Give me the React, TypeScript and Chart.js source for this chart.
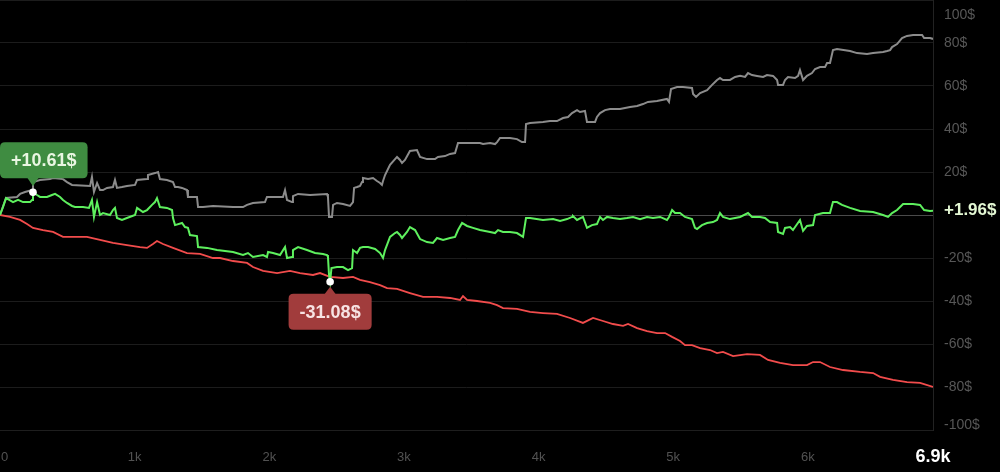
import React, { useEffect, useRef } from "react";
import { Chart, registerables } from "chart.js";

Chart.register(...registerables);

// ---------- axis values ----------
const X_MIN = 0;
const X_MAX = 6930;
const X_TICKS = [0, 1000, 2000, 3000, 4000, 5000, 6000];
const X_TICK_LABELS = ["0", "1k", "2k", "3k", "4k", "5k", "6k"];
const X_END_LABEL = "6.9k";
const Y_MIN = -100;
const Y_MAX = 100;
const Y_TICKS = [100, 80, 60, 40, 20, -20, -40, -60, -80, -100];
const Y_TICK_LABELS = ["100$", "80$", "60$", "40$", "20$", "-20$", "-40$", "-60$", "-80$", "-100$"];

// ---------- gross (grey) ----------
const grossX = [
  0, 45, 126, 149, 186, 238, 245, 297, 371, 394,
  468, 498, 535, 669, 683, 698, 721, 743, 765, 795,
  839, 854, 869, 906, 943, 1003, 1018, 1092, 1099, 1151,
  1174, 1188, 1240, 1285, 1300, 1322, 1352, 1389, 1396, 1463,
  1471, 1508, 1582, 1731, 1805, 1835, 1879, 1968, 1983, 2102,
  2117, 2132, 2169, 2176, 2214, 2303, 2429, 2436, 2444, 2466,
  2474, 2503, 2548, 2600, 2622, 2630, 2652, 2674, 2689, 2696,
  2734, 2771, 2800, 2823, 2837, 2845, 2860, 2897, 2949, 2971,
  2986, 3008, 3045, 3097, 3120, 3172, 3231, 3253, 3305, 3343,
  3380, 3402, 3439, 3565, 3588, 3640, 3677, 3692, 3714, 3788,
  3840, 3877, 3900, 3907, 3937, 4033, 4085, 4137, 4182, 4219,
  4249, 4286, 4308, 4345, 4360, 4420, 4434, 4457, 4494, 4531,
  4605, 4680, 4732, 4776, 4813, 4880, 4954, 4969, 4984, 5029,
  5073, 5140, 5148, 5170, 5200, 5252, 5289, 5326, 5348, 5370,
  5422, 5460, 5497, 5534, 5556, 5586, 5623, 5668, 5697, 5742,
  5772, 5779, 5816, 5831, 5853, 5905, 5928, 5942, 5965, 5994,
  6031, 6054, 6091, 6128, 6143, 6165, 6187, 6217, 6314, 6366,
  6440, 6485, 6559, 6589, 6611, 6626, 6663, 6700, 6737, 6782,
  6849, 6864, 6908, 6930,
];
const grossY = [
  0, 7.9, 8.4, 9.8, 10.7, 11.6, 15.3, 16.3, 16.7, 17.2,
  16.7, 15.3, 14.0, 13.5, 17.7, 10.7, 14.9, 11.6, 11.6, 12.6,
  13.0, 16.3, 12.6, 13.0, 13.5, 14.0, 16.3, 16.7, 18.6, 19.5,
  20.0, 16.7, 16.3, 15.3, 13.0, 13.0, 12.6, 11.6, 8.4, 8.4,
  3.7, 3.7, 4.2, 3.7, 3.7, 4.7, 5.6, 6.0, 8.4, 8.4,
  11.6, 7.0, 6.0, 8.8, 9.8, 9.3, 9.8, 8.4, -0.9, -0.9,
  4.7, 5.6, 5.1, 4.2, 6.0, 12.6, 13.0, 13.5, 15.3, 17.2,
  16.7, 17.2, 15.8, 14.9, 14.0, 15.8, 18.6, 23.3, 27.0, 25.6,
  24.2, 25.6, 29.8, 30.2, 27.0, 26.0, 26.0, 27.0, 27.4, 28.4,
  28.8, 33.5, 33.5, 33.5, 33.0, 33.5, 33.0, 33.9, 35.8, 35.8,
  35.3, 33.9, 33.9, 42.3, 42.8, 43.3, 43.7, 43.7, 45.1, 45.6,
  47.4, 48.8, 47.9, 48.4, 43.3, 43.3, 45.6, 47.4, 48.8, 49.3,
  49.3, 50.2, 50.7, 51.6, 52.6, 53.0, 54.0, 52.6, 58.6, 59.5,
  59.5, 59.1, 56.3, 54.9, 56.7, 58.1, 60.5, 62.8, 63.7, 62.8,
  62.8, 64.2, 64.7, 64.2, 66.0, 65.1, 64.7, 64.2, 65.1, 64.7,
  62.8, 60.5, 60.5, 62.8, 64.2, 63.7, 64.7, 67.4, 62.8, 64.7,
  66.0, 67.9, 68.8, 68.8, 70.7, 70.7, 76.7, 77.2, 76.3, 75.3,
  74.9, 75.3, 75.8, 76.3, 76.7, 78.1, 79.5, 82.3, 83.3, 83.7,
  83.7, 82.3, 82.3, 81.9,
];

// ---------- net (green) ----------
const netX = [
  0, 22, 45, 59, 97, 134, 171, 223, 238, 245,
  275, 297, 349, 386, 409, 446, 468, 498, 535, 557,
  617, 661, 683, 698, 721, 743, 765, 817, 839, 854,
  869, 906, 943, 1003, 1018, 1062, 1092, 1129, 1151, 1166,
  1188, 1240, 1278, 1285, 1300, 1352, 1374, 1396, 1411, 1463,
  1471, 1538, 1612, 1731, 1805, 1842, 1879, 1954, 1983, 1991,
  2028, 2080, 2117, 2132, 2169, 2176, 2214, 2280, 2340, 2399,
  2429, 2436, 2444, 2452, 2462, 2503, 2548, 2585, 2615, 2622,
  2652, 2674, 2696, 2734, 2786, 2823, 2845, 2860, 2897, 2934,
  2949, 2971, 2986, 3023, 3045, 3083, 3120, 3172, 3216, 3246,
  3291, 3343, 3380, 3402, 3432, 3469, 3513, 3565, 3640, 3677,
  3699, 3736, 3788, 3840, 3885, 3907, 3937, 4033, 4108, 4160,
  4212, 4249, 4256, 4286, 4330, 4360, 4397, 4434, 4457, 4479,
  4509, 4553, 4605, 4657, 4702, 4754, 4806, 4850, 4903, 4954,
  4969, 4992, 5014, 5051, 5088, 5140, 5162, 5177, 5214, 5252,
  5296, 5326, 5348, 5370, 5422, 5460, 5497, 5556, 5586, 5645,
  5682, 5720, 5772, 5779, 5816, 5831, 5868, 5890, 5942, 5965,
  5994, 6039, 6054, 6113, 6165, 6187, 6217, 6254, 6314, 6388,
  6485, 6559, 6596, 6626, 6663, 6708, 6782, 6834, 6864, 6908,
  6930,
];
const netY = [
  0, 3.7, 7.9, 7.4, 6.0, 7.0, 6.0, 6.0, 7.0, 10.61,
  9.3, 8.4, 8.4, 9.3, 9.8, 8.4, 7.0, 5.6, 4.2, 3.7,
  3.7, 3.3, 7.0, -0.9, 6.0, 0, 0.9, 0, 2.3, 3.3,
  -1.4, -2.3, -1.4, 0, 3.3, 1.4, 2.3, 4.7, 6.0, 7.9,
  3.7, 3.3, 2.3, -1.4, -4.7, -3.7, -5.6, -6.0, -9.3, -9.8,
  -14.9, -15.3, -16.3, -17.2, -18.6, -17.7, -19.5, -18.6, -19.5, -17.2,
  -17.7, -18.6, -14.9, -20.0, -19.5, -16.3, -14.9, -16.3, -17.7, -18.1,
  -18.6, -19.5, -28.0, -31.08, -24.7, -24.2, -24.2, -25.6, -24.7, -16.3,
  -17.7, -15.3, -14.9, -14.9, -15.8, -17.7, -20.0, -16.3, -10.2, -8.4,
  -7.9, -9.3, -10.7, -7.9, -5.6, -7.0, -11.2, -12.6, -13.0, -10.7,
  -11.6, -10.7, -10.2, -7.0, -3.7, -5.1, -6.0, -7.0, -7.9, -8.4,
  -7.0, -7.9, -7.9, -8.4, -10.2, -1.4, -1.4, -2.3, -1.9, -2.8,
  -1.9, -0.9, -0.5, -2.3, -0.9, -6.0, -4.7, -4.2, -0.9, -2.3,
  -0.9, -1.4, -1.9, -1.4, -0.9, -1.9, -0.9, -1.4, -0.9, -2.3,
  -0.9, 2.3, 0.9, 0.9, -0.9, -1.9, -6.0, -6.5, -4.7, -3.7,
  -3.3, -2.3, 0.9, -0.9, -1.9, -1.4, -0.9, 0.9, -0.9, -0.9,
  -1.4, -3.3, -3.7, -7.9, -8.8, -6.0, -5.6, -7.0, -2.3, -7.4,
  -5.1, -4.7, 0, 0.9, 0.9, 6.0, 6.0, 4.7, 3.3, 1.9,
  1.4, 0, -0.9, 0.9, 2.3, 5.1, 5.1, 4.7, 2.3, 1.9,
  1.96,
];

// ---------- fees (red) ----------
const feesX = [
  0, 74, 149, 201, 245, 319, 394, 468, 542, 646,
  743, 839, 943, 1040, 1092, 1136, 1166, 1211, 1285, 1389,
  1486, 1582, 1634, 1731, 1835, 1879, 1954, 2058, 2154, 2228,
  2325, 2377, 2436, 2451, 2548, 2622, 2674, 2748, 2823, 2875,
  2949, 3045, 3142, 3246, 3343, 3417, 3439, 3469, 3543, 3640,
  3692, 3736, 3840, 3937, 4033, 4137, 4234, 4330, 4405, 4479,
  4553, 4628, 4665, 4732, 4806, 4880, 4940, 4992, 5051, 5088,
  5140, 5200, 5274, 5326, 5370, 5445, 5549, 5645, 5705, 5794,
  5890, 5994, 6039, 6091, 6165, 6262, 6388, 6485, 6537, 6633,
  6737, 6834, 6930,
];
const feesY = [
  0, -0.9, -2.3, -4.2, -6.0, -7.0, -7.9, -10.2, -10.2, -10.2,
  -11.6, -13.0, -14.0, -14.9, -15.3, -13.5, -12.1, -13.5, -15.3, -17.7,
  -18.1, -20.0, -20.0, -21.4, -22.3, -24.2, -26.0, -27.0, -26.0, -27.0,
  -27.9, -27.0, -28.4, -28.8, -29.3, -28.8, -30.2, -31.2, -32.6, -34.0,
  -34.4, -36.3, -38.1, -38.1, -38.6, -39.5, -37.7, -39.5, -40.0, -40.9,
  -41.9, -43.3, -43.7, -45.1, -45.6, -46.0, -47.9, -50.2, -47.9, -49.3,
  -50.7, -51.6, -50.7, -52.6, -54.0, -54.9, -54.9, -56.7, -58.6, -60.5,
  -60.5, -61.9, -62.8, -64.2, -63.7, -65.6, -64.7, -65.1, -67.4, -68.8,
  -69.8, -69.8, -68.4, -68.4, -70.7, -72.1, -73.0, -73.5, -75.3, -76.7,
  -77.7, -78.1, -80.0,
];

// ---------- markers ----------
const MAX_MARK = [245, 10.61];
const MAX_LABEL = "+10.61$";
const MIN_MARK = [2452, -31.08];
const MIN_LABEL = "-31.08$";
const LAST_LABEL = "+1.96$";

const FONT = '"Liberation Sans", Arial, Helvetica, sans-serif';

function toPoints(xs: number[], ys: number[]) {
  return xs.map((x, i) => ({ x, y: ys[i] }));
}

function roundRect(ctx: CanvasRenderingContext2D, x: number, y: number, w: number, h: number, r: number) {
  ctx.beginPath();
  ctx.moveTo(x + r, y);
  ctx.lineTo(x + w - r, y);
  ctx.quadraticCurveTo(x + w, y, x + w, y + r);
  ctx.lineTo(x + w, y + h - r);
  ctx.quadraticCurveTo(x + w, y + h, x + w - r, y + h);
  ctx.lineTo(x + r, y + h);
  ctx.quadraticCurveTo(x, y + h, x, y + h - r);
  ctx.lineTo(x, y + r);
  ctx.quadraticCurveTo(x, y, x + r, y);
  ctx.closePath();
}

function drawTag(
  ctx: CanvasRenderingContext2D,
  area: any,
  px: number,
  py: number,
  text: string,
  fill: string,
  color: string,
  above: boolean
) {
  ctx.font = `bold 18px ${FONT}`;
  const tw = ctx.measureText(text).width;
  const w = tw + 22;
  const h = 36;
  let left = px - w / 2;
  left = Math.max(area.left, Math.min(left, area.right - w));
  const top = above ? py - 14 - h : py + 12;
  ctx.fillStyle = fill;
  roundRect(ctx, left, top, w, h, 5);
  ctx.fill();
  ctx.beginPath();
  if (above) {
    ctx.moveTo(px - 6, top + h - 1);
    ctx.lineTo(px + 6, top + h - 1);
    ctx.lineTo(px, py - 6);
  } else {
    ctx.moveTo(px - 6, top + 1);
    ctx.lineTo(px + 6, top + 1);
    ctx.lineTo(px, py + 5);
  }
  ctx.closePath();
  ctx.fill();
  ctx.fillStyle = color;
  ctx.textAlign = "center";
  ctx.textBaseline = "middle";
  ctx.fillText(text, left + w / 2, top + h / 2 + 1);
  ctx.beginPath();
  ctx.arc(px, py, 3.8, 0, Math.PI * 2);
  ctx.fillStyle = "#ffffff";
  ctx.fill();
}

const overlayPlugin = {
  id: "overlay",
  afterDatasetsDraw(chart: any) {
    const { ctx, chartArea, scales } = chart;
    const xs = scales.x;
    const ys = scales.y;
    ctx.save();

    // y tick labels
    ctx.font = `14px ${FONT}`;
    ctx.fillStyle = "#575757";
    ctx.textAlign = "left";
    ctx.textBaseline = "middle";
    Y_TICKS.forEach((v, i) => {
      let py = ys.getPixelForValue(v);
      py = Math.min(Math.max(py, chartArea.top + 15), chartArea.bottom - 5);
      ctx.fillText(Y_TICK_LABELS[i], chartArea.right + 11, py);
    });

    // last value label
    const lastV = netY[netY.length - 1];
    ctx.font = `bold 17px ${FONT}`;
    ctx.fillStyle = "#e3f7d3";
    ctx.fillText(LAST_LABEL, chartArea.right + 11, ys.getPixelForValue(lastV));

    // x tick labels
    ctx.font = `13px ${FONT}`;
    ctx.fillStyle = "#525252";
    ctx.textAlign = "left";
    const ly = 457;
    X_TICKS.forEach((v, i) => {
      const t = X_TICK_LABELS[i];
      const w = ctx.measureText(t).width;
      let lx = xs.getPixelForValue(v) - w / 2;
      lx = Math.max(lx, chartArea.left + 1);
      ctx.fillText(t, lx, ly);
    });
    ctx.font = `bold 18px ${FONT}`;
    ctx.fillStyle = "#ffffff";
    ctx.textAlign = "center";
    ctx.fillText(X_END_LABEL, xs.getPixelForValue(X_MAX), ly);

    // extremum tags
    drawTag(
      ctx,
      chartArea,
      xs.getPixelForValue(MAX_MARK[0]),
      ys.getPixelForValue(MAX_MARK[1]),
      MAX_LABEL,
      "#3f8c41",
      "#e9f6e2",
      true
    );
    drawTag(
      ctx,
      chartArea,
      xs.getPixelForValue(MIN_MARK[0]),
      ys.getPixelForValue(MIN_MARK[1]),
      MIN_LABEL,
      "#a13c3c",
      "#f7e3e3",
      false
    );
    ctx.restore();
  },
};

export default function App() {
  const ref = useRef<HTMLCanvasElement | null>(null);

  useEffect(() => {
    if (!ref.current) return;
    const chart = new Chart(ref.current, {
      type: "line",
      data: {
        datasets: [
          {
            label: "Net",
            data: toPoints(netX, netY),
            borderColor: "#5ef05e",
            borderWidth: 2,
            pointRadius: 0,
            tension: 0,
          },
          {
            label: "Fees",
            data: toPoints(feesX, feesY),
            borderColor: "#f24c4c",
            borderWidth: 1.8,
            pointRadius: 0,
            tension: 0,
          },
          {
            label: "Gross",
            data: toPoints(grossX, grossY),
            borderColor: "#8c8c8c",
            borderWidth: 2,
            pointRadius: 0,
            tension: 0,
          },
        ],
      },
      options: {
        animation: false,
        responsive: false,
        devicePixelRatio: 1,
        layout: { padding: { left: 0, top: 0, right: 67, bottom: 42 } },
        plugins: { legend: { display: false }, tooltip: { enabled: false } },
        events: [],
        scales: {
          x: {
            type: "linear",
            min: X_MIN,
            max: X_MAX,
            ticks: { display: false, stepSize: 1000 },
            grid: { display: false, drawTicks: false },
            border: { display: true, color: "#1e1e1e" },
          },
          y: {
            type: "linear",
            position: "right",
            min: Y_MIN,
            max: Y_MAX,
            ticks: { display: false, stepSize: 20 },
            grid: {
              drawTicks: false,
              color: (c: any) => (c.tick && c.tick.value === 0 ? "#4a4a4a" : "#1c1c1c"),
              lineWidth: 1,
            },
            border: { display: true, color: "#222222" },
          },
        },
      },
      plugins: [overlayPlugin],
    });
    return () => chart.destroy();
  }, []);

  return (
    <div
      style={{
        position: "absolute",
        left: 0,
        top: 0,
        width: 1000,
        height: 472,
        background: "#000000",
      }}
    >
      <canvas ref={ref} width={1000} height={472} style={{ display: "block" }} />
    </div>
  );
}
